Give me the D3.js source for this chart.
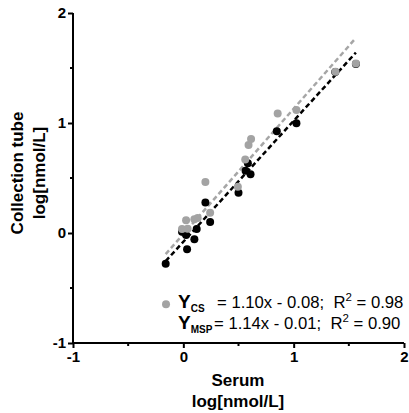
<!DOCTYPE html>
<html><head><meta charset="utf-8">
<script src="https://cdn.jsdelivr.net/npm/d3@7"></script>
<style>
html,body{margin:0;padding:0;background:#fff;}
svg{display:block;font-family:"Liberation Sans",Arial,sans-serif;}
</style></head>
<body>
<script>
// Data (log[nmol/L])
const csX = [-0.16, 0.034, 0.10, 0.025, -0.012, 0.121, 0.20, 0.243, 0.50, 0.564, 0.609, 0.585, 0.847, 1.025, 1.377, 1.564];
const csY = [-0.28, -0.148, -0.057, -0.018, 0.012, 0.036, 0.277, 0.10, 0.366, 0.566, 0.534, 0.634, 0.925, 0.997, 1.464, 1.536];
const mspX = [-0.157, -0.012, 0.039, 0.025, 0.10, 0.13, 0.20, 0.243, 0.494, 0.561, 0.591, 0.614, 0.855, 1.025, 1.379, 1.564];
const mspY = [-0.648, 0.036, 0.039, 0.115, 0.125, 0.136, 0.464, 0.185, 0.421, 0.668, 0.80, 0.855, 1.086, 1.118, 1.466, 1.541];
const fitCS = {slope: 1.10, intercept: -0.08};
const fitMSP = {slope: 1.14, intercept: -0.01};
const fitRange = [-0.16, 1.564];
const majorTicks = [-1, 0, 1, 2];
const minorTicks = [-0.5, 0.5, 1.5];
const xTitle = ["Serum", "log[nmol/L]"];
const yTitle = ["Collection tube", "log[nmol/L]"];

const W = 409, H = 413;
const svg = d3.select("body").append("svg").attr("width", W).attr("height", H);
const x = d3.scaleLinear().domain([-1, 2]).range([73, 404]);
const y = d3.scaleLinear().domain([-1, 2]).range([343, 13]);

// axes
const xAxis = d3.axisBottom(x).tickValues(majorTicks).tickSize(5).tickPadding(3).tickFormat(d3.format("d"));
const yAxis = d3.axisLeft(y).tickValues(majorTicks).tickSize(5).tickPadding(2).tickFormat(d3.format("d"));
const gx = svg.append("g").attr("transform", `translate(0,${y(-1)})`).call(xAxis);
const gy = svg.append("g").attr("transform", `translate(${x(-1)},0)`).call(yAxis);
[gx, gy].forEach(g => {
  g.select(".domain").attr("stroke", "#000").attr("stroke-width", 2);
  g.selectAll(".tick line").attr("stroke", "#000").attr("stroke-width", 2);
  g.selectAll(".tick text").attr("fill", "#000").style("font-size", "15px").style("font-weight", "bold").style("font-family", "'Liberation Sans',Arial,sans-serif");
});
gx.select(".domain").attr("d", `M${x(-1)},0H${x(2)}`);
gy.select(".domain").attr("d", `M0,${y(-1)}V${y(2)}`);
gx.selectAll(".tick text").text(d => d < 0 ? "-" + Math.abs(d) : d);
gy.selectAll(".tick text").text(d => d < 0 ? "-" + Math.abs(d) : d);
// minor ticks
svg.append("g").selectAll("line").data(minorTicks).join("line")
  .attr("x1", d => x(d)).attr("x2", d => x(d)).attr("y1", y(-1)).attr("y2", y(-1) + 3)
  .attr("stroke", "#000").attr("stroke-width", 2);
svg.append("g").selectAll("line").data(minorTicks).join("line")
  .attr("y1", d => y(d)).attr("y2", d => y(d)).attr("x1", x(-1)).attr("x2", x(-1) - 3)
  .attr("stroke", "#000").attr("stroke-width", 2);

// fit lines
function fitLine(f, color) {
  const pts = fitRange.map(v => [x(v), y(f.slope * v + f.intercept)]);
  svg.append("path").attr("d", d3.line()(pts)).attr("stroke", color).attr("stroke-width", 2.5)
    .attr("stroke-dasharray", "5,3").attr("fill", "none");
}
fitLine(fitMSP, "#a6a6a6");
fitLine(fitCS, "#000");

// points
svg.append("g").selectAll("circle").data(csX.map((v, i) => [v, csY[i]])).join("circle")
  .attr("cx", d => x(d[0])).attr("cy", d => y(d[1])).attr("r", 4).attr("fill", "#000");
svg.append("g").selectAll("circle").data(mspX.map((v, i) => [v, mspY[i]])).join("circle")
  .attr("cx", d => x(d[0])).attr("cy", d => y(d[1])).attr("r", 4).attr("fill", "#a3a3a3");

// equations
function eq(yb, sub, restX, rest1, r2) {
  const t = svg.append("text").attr("y", yb).style("font-size", "16.7px").style("white-space", "pre").attr("fill", "#000");
  t.append("tspan").attr("x", 178).style("font-weight", "bold").style("font-size", "19px").text("Y");
  t.append("tspan").attr("dy", 4).style("font-weight", "bold").style("font-size", "10px").text(sub);
  t.append("tspan").attr("x", restX).attr("dy", -4).text(rest1);
  t.append("tspan").attr("dy", -7).style("font-size", "11.5px").text("2");
  t.append("tspan").attr("dy", 7).text(r2);
}
eq(308, "CS", 217, "= 1.10x - 0.08;  R", " = 0.98");
eq(329, "MSP", 214, "= 1.14x - 0.01;  R", " = 0.90");

// axis titles
const xt = svg.append("text").attr("text-anchor", "middle").style("font-size", "17px").style("font-weight", "bold");
xt.append("tspan").attr("x", 238).attr("y", 386).text(xTitle[0]);
xt.append("tspan").attr("x", 238).attr("y", 407).text(xTitle[1]);
const yt = svg.append("text").attr("text-anchor", "middle").attr("transform", "translate(0,173) rotate(-90)")
  .style("font-size", "17px").style("font-weight", "bold");
yt.append("tspan").attr("x", 0).attr("y", 23).text(yTitle[0]);
yt.append("tspan").attr("x", 0).attr("y", 45).text(yTitle[1]);
</script>
</body></html>
